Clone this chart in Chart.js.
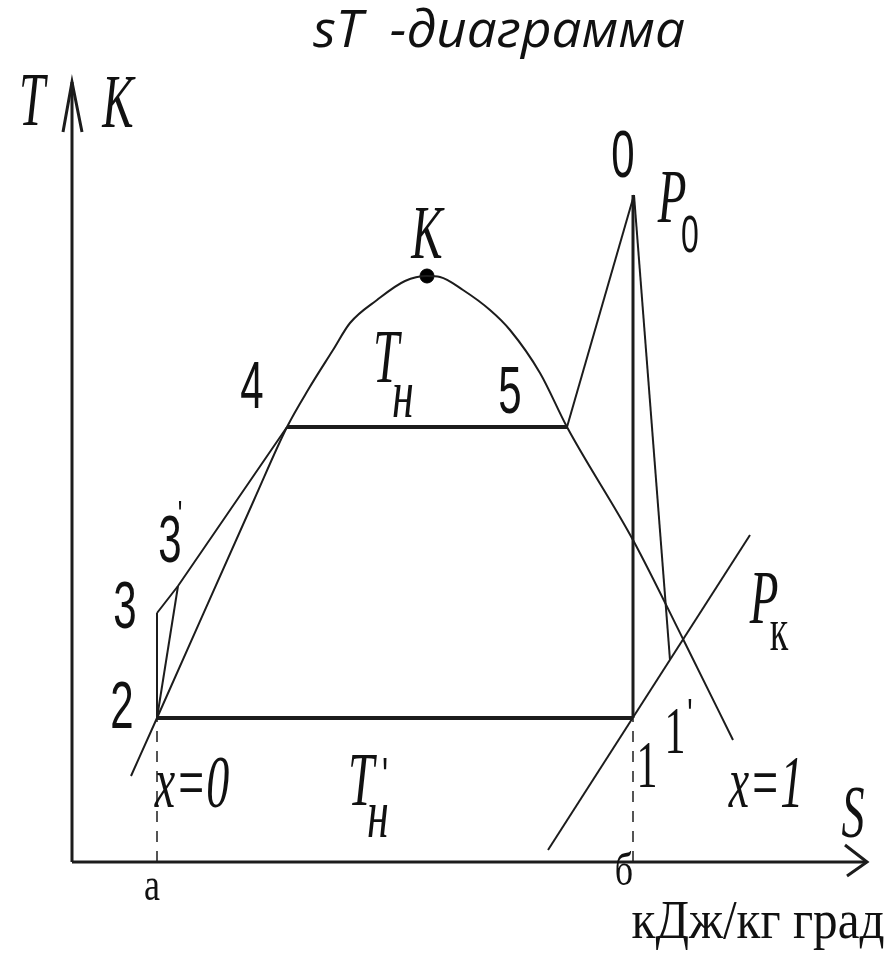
<!DOCTYPE html>
<html>
<head>
<meta charset="utf-8">
<script src="https://cdn.jsdelivr.net/npm/chart.js@4.4.1/dist/chart.umd.min.js"></script>
<style>
  html, body { margin: 0; padding: 0; background: #fff; }
  canvas { display: block; }
</style>
</head>
<body>
<canvas id="st" width="886" height="956"></canvas>
<script>
// s, T in diagram units (origin = axis crossing)
const satS = [5.9, 8.5, 18.2, 21.5, 23.6, 26.1, 27.8, 30.5, 33.3, 35.5, 36.8, 39.1, 41.8, 43.8, 46.8, 49.5, 56.1, 61.3, 66.1];
const satT = [8.6, 14.4, 36.2, 43.5, 47.2, 51.2, 53.9, 56.2, 58.1, 58.6, 58.5, 57.2, 55.2, 53.2, 48.9, 43.5, 32.2, 21.9, 12.2];

const critS = [35.5];
const critT = [58.6];

// cycle points
const pt = {
    '2': [8.5, 14.4],
    '3': [8.5, 24.9],
    "3'": [10.6, 27.6],
    '4': [21.5, 43.5],
    '5': [49.5, 43.5],
    '0': [56.2, 66.7],
    '1': [56.1, 14.4],
    "1'": [59.8, 20.2]
};

const pkS = [47.6, 67.8];
const pkT = [1.2, 32.7];

const axisYS = [0, 0];
const axisYT = [0, 78];
const axisXS = [0, 79.5];
const axisXT = [0, 0];
const arrowYS = [-0.9, 0, 1.0];
const arrowYT = [73, 78, 73];
const arrowXS = [77.3, 79.5, 77.5];
const arrowXT = [1.7, 0, -1.4];

// w = target text width in px (text is stretched to it), sy = vertical stretch
const labels = [
    { text: 'sT  -диаграмма', s: 42.7, t: 81.5, font: 'italic 52px "Open Sans"', sy: 1, w: 372 },
    { text: 'T', s: -4.0, t: 73.7, font: 'italic 47px "Liberation Serif"' },
    { text: 'K', s: 4.6, t: 73.5, font: 'italic 47px "Liberation Serif"' },
    { text: '0', s: 55.1, t: 68.5, font: '42px "Liberation Sans"' },
    { text: 'P', s: 60.0, t: 64.0, font: 'italic 47px "Liberation Serif"' },
    { text: '0', s: 61.8, t: 61.0, font: '32px "Liberation Sans"' },
    { text: 'K', s: 35.5, t: 60.4, font: 'italic 47px "Liberation Serif"' },
    { text: '4', s: 18.0, t: 45.4, font: '42px "Liberation Sans"' },
    { text: 'T', s: 31.4, t: 48.0, font: 'italic 47px "Liberation Serif"' },
    { text: 'н', s: 33.1, t: 44.5, font: 'italic 44px "Liberation Serif"' },
    { text: '5', s: 43.8, t: 44.9, font: '42px "Liberation Sans"' },
    { text: '3', s: 9.8, t: 30.0, font: '42px "Liberation Sans"' },
    { text: "'", s: 10.8, t: 33.4, font: '24px "Liberation Sans"' },
    { text: '3', s: 5.3, t: 23.4, font: '42px "Liberation Sans"' },
    { text: '2', s: 5.0, t: 13.4, font: '42px "Liberation Sans"' },
    { text: 'x=0', s: 12.0, t: 5.5, font: 'italic 46px "Liberation Serif"' },
    { text: 'T', s: 28.9, t: 5.7, font: 'italic 47px "Liberation Serif"' },
    { text: "'", s: 31.3, t: 6.8, font: '32px "Liberation Sans"' },
    { text: 'н', s: 30.6, t: 2.5, font: 'italic 44px "Liberation Serif"' },
    { text: 'P', s: 69.2, t: 23.9, font: 'italic 47px "Liberation Serif"' },
    { text: 'к', s: 70.7, t: 21.2, font: '38px "Liberation Serif"' },
    { text: '1', s: 60.3, t: 10.9, font: '42px "Liberation Serif"' },
    { text: "'", s: 61.8, t: 13.2, font: '28px "Liberation Sans"' },
    { text: '1', s: 57.5, t: 7.5, font: '42px "Liberation Serif"' },
    { text: 'x=1', s: 69.4, t: 5.5, font: 'italic 46px "Liberation Serif"' },
    { text: 'S', s: 78.1, t: 2.5, font: 'italic 46px "Liberation Serif"' },
    { text: 'а', s: 8.0, t: -3.8, font: '36px "Liberation Serif"', sy: 1.3 },
    { text: 'б', s: 55.2, t: -2.3, font: '36px "Liberation Serif"', sy: 1.3 },
    { text: 'кДж/кг град', s: 68.6, t: -7.6, font: '42px "Liberation Serif"', sy: 1.3, w: 253 }
];

const INK = '#1c1c1c';

function zip(xs, ys) {
    return xs.map((v, i) => ({ x: v, y: ys[i] }));
}
function path(...names) {
    return names.map(n => ({ x: pt[n][0], y: pt[n][1] }));
}
function line(data, width, extra) {
    return Object.assign({
        data: data,
        showLine: true,
        borderColor: INK,
        borderWidth: width,
        pointRadius: 0,
        fill: false
    }, extra || {});
}

const labelPlugin = {
    id: 'diagramLabels',
    afterDatasetsDraw(chart) {
        const { ctx, scales: { x, y } } = chart;
        labels.forEach(l => {
            ctx.save();
            ctx.font = l.font;
            ctx.translate(x.getPixelForValue(l.s), y.getPixelForValue(l.t));
            const sx = l.w ? l.w / ctx.measureText(l.text).width : 1;
            ctx.scale(sx, l.sy || 1.6);
            ctx.fillStyle = '#111';
            ctx.textAlign = 'center';
            ctx.textBaseline = 'alphabetic';
            ctx.fillText(l.text, 0, 0);
            ctx.restore();
        });
    }
};

new Chart(document.getElementById('st'), {
    type: 'scatter',
    data: {
        datasets: [
            line(zip(axisYS, axisYT), 3),
            line(zip(axisXS, axisXT), 3),
            line(zip(arrowYS, arrowYT), 3),
            line(zip(arrowXS, arrowXT), 3),
            // saturation curve x=0 ... x=1
            line(zip(satS, satT), 2, { cubicInterpolationMode: 'monotone' }),
            // cycle
            line(path('2', '3'), 2),
            line(path('3', "3'", '4'), 2),
            line(path("3'", '2'), 2),
            line(path('2', '1'), 4),
            line(path('4', '5'), 4),
            line(path('5', '0'), 2),
            line([{ x: pt['1'][0], y: pt['0'][1] }, { x: pt['1'][0], y: pt['1'][1] }], 3),
            line(path('0', "1'"), 2),
            // isobar Pk
            line(zip(pkS, pkT), 2),
            // projections a, б
            line([{ x: pt['2'][0], y: 0 }, { x: pt['2'][0], y: pt['2'][1] }], 1.5, { borderDash: [11, 9] }),
            line([{ x: pt['1'][0], y: 0 }, { x: pt['1'][0], y: pt['1'][1] }], 1.5, { borderDash: [11, 9] }),
            // critical point K
            {
                data: zip(critS, critT),
                pointRadius: 7,
                pointBackgroundColor: '#000',
                pointBorderColor: '#000',
                showLine: false
            }
        ]
    },
    options: {
        responsive: false,
        animation: false,
        layout: { padding: 0, autoPadding: false },
        plugins: {
            legend: { display: false },
            tooltip: { enabled: false }
        },
        scales: {
            x: { type: 'linear', min: -7.2, max: 81.4, display: false },
            y: { type: 'linear', min: -9.4, max: 86.2, display: false }
        }
    },
    plugins: [labelPlugin]
});
</script>
</body>
</html>
